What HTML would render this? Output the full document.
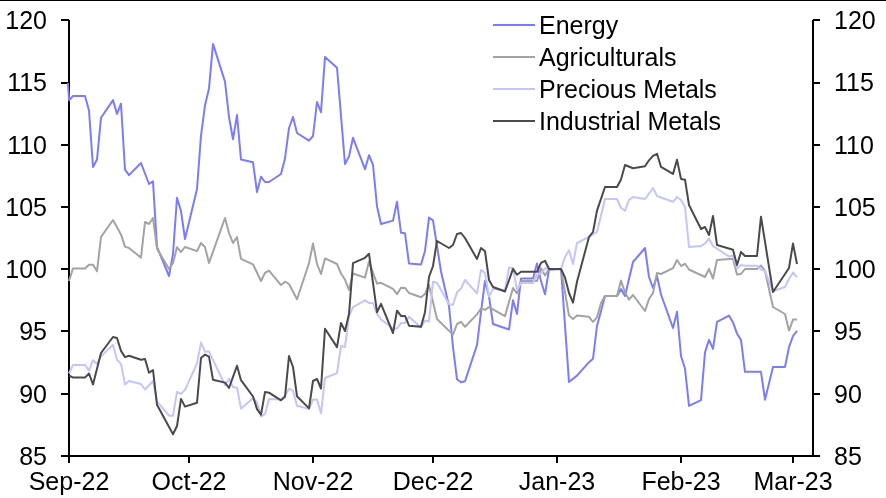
<!DOCTYPE html>
<html><head><meta charset="utf-8"><style>
html,body{margin:0;padding:0;background:#fff;}
svg{display:block;font-family:"Liberation Sans",sans-serif;font-size:25px;}
</style></head><body>
<svg width="886" height="498" viewBox="0 0 886 498">
<line x1="0" y1="0.5" x2="886" y2="0.5" stroke="#000" stroke-width="1"/><line x1="493" y1="25" x2="535" y2="25" stroke="#7b7bff" stroke-width="2"/><line x1="493" y1="57" x2="535" y2="57" stroke="#a3a3a3" stroke-width="2"/><line x1="493" y1="89" x2="535" y2="89" stroke="#c4c4ff" stroke-width="2"/><line x1="493" y1="121" x2="535" y2="121" stroke="#4a4a4a" stroke-width="2"/>
<path d="M69 20V463M813 20V456M61 456H820" stroke="#000" stroke-width="2" fill="none"/><path d="M61 456.00H69M813 456.00H820M61 394.00H69M813 394.00H820M61 331.00H69M813 331.00H820M61 269.00H69M813 269.00H820M61 207.00H69M813 207.00H820M61 145.00H69M813 145.00H820M61 83.00H69M813 83.00H820M61 20.00H69M813 20.00H820M69 456V463M189 456V463M313 456V463M433 456V463M557 456V463M681 456V463M793 456V463" stroke="#000" stroke-width="2" fill="none"/>
<polyline points="67.9,83 69.1,100.3 73,96 85,96 89,110.5 93,167 97,159.6 101,117.8 113,100.1 117,113.9 121,103.7 125,169.7 129,175.1 141,163 149,184 153,181.4 157,247 169,276 173,254 177,197.7 181,211 185,239 197,189 201,135.6 205,105.3 209,88.4 213,43.9 225,81.6 229,117 233,139.3 237,114.9 241,159.6 253,162.3 257,192 261,176.7 265,182 269,182 281,174 285,158.4 289,128 293,117 297,133 309,140.6 313,136 317,102 321,112.2 325,57 337,67.7 345,164 349,156.4 353,137.8 365,169.1 369,155.2 373,164.9 377,206.2 381,224 393,220.6 397,201.7 401,232.8 405,233.3 409,263.5 421,264.5 425,251 429,217.6 433,220.3 437,246 441,271.5 449,306 453,347 457,379.3 461,382.3 465,381.3 477,345 481,312 485,281 489,296.3 493,324 509,329.5 513,300.2 517,313.9 521,278.5 533,278.5 537,263.5 541,281 545,294.2 549,269.7 561,269 569,382 577,375.6 589,362.2 593,358.7 597,326 605,296 617,296 621,289 625,296 633,262 645,248 649,277 653,288 657,276 661,294.5 673,328 677,311.7 681,356 685,368.5 689,405.8 701,400.1 705,352.3 709,339.9 713,348.9 717,321.9 729,315.6 733,322.4 737,333.7 741,339.9 745,371.8 761,371.8 765,399.7 773,366.9 785,366.9 789,347.2 793,336 797,330.9" fill="none" stroke="#7b7bff" stroke-width="2" stroke-linejoin="round"/><polyline points="69,281 73,268.5 85,268.5 89,264.7 93,264.7 97,271.2 101,237 113,220 121,234.4 125,246.6 129,248 141,257.6 145,222 149,224 153,218 157,248.7 169,269 173,263 177,247.3 181,252 185,247 197,251.1 201,243 205,247 209,263 225,218 229,233 233,243 237,237.1 241,258.9 253,264.3 261,281 265,272.8 269,270.7 281,285.1 285,281.7 289,284 297,299.3 309,263.2 313,243.4 317,264 321,274 325,258.4 337,264 341,273.5 345,279.6 349,290 353,273.5 365,277.6 369,261.6 377,283.6 381,282.8 393,288.8 397,294.1 401,287.7 405,287.9 409,293 421,297.2 425,294 429,285 437,319 453,334.6 457,324 461,321.8 465,326.8 477,314.4 481,308.5 485,309.9 489,307.2 505,316.1 513,288 517,293.5 521,281 537,281 541,268.3 545,275.5 549,269 561,269 569,315.6 573,319 577,315.6 589,316.8 593,321.8 597,317.3 601,303 605,296 617,296 621,280.6 625,292.5 629,299.6 633,295 645,311 649,299 653,293 657,273 661,274 673,268.2 677,260 681,266 685,263.8 689,269.5 705,277 709,269 713,278.5 717,260 733,258.7 737,274.5 741,274 745,269 757,269 761,265.5 765,271 773,307 785,314 789,330.6 793,319.6 797,319.6" fill="none" stroke="#a3a3a3" stroke-width="2" stroke-linejoin="round"/><polyline points="69,373.5 73,364.9 85,364.9 89,370.7 93,360.2 97,363.9 101,356.4 113,344.8 117,359.8 121,363.9 125,384.4 129,381 141,384 145,389.5 153,381 157,401.4 169,415.7 173,415.7 177,391.8 181,393.9 185,389.8 197,363.4 201,342.6 205,351.6 209,351.6 225,385 229,378.7 233,387.1 237,387.7 241,408.6 253,398.2 257,402.3 261,416.6 265,413.9 269,398.9 281,399.6 285,395.5 289,388.7 293,390.7 297,405.7 309,408.9 313,399.6 317,399.6 321,413.2 325,378 337,373.1 341,345.8 345,347 349,316 353,307.1 365,300.3 369,303 373,303 377,313.9 381,319.4 393,328.5 397,328.5 401,322.9 405,322.9 409,316.7 421,327.4 425,320.6 429,321.5 433,281.7 437,282.8 449,304.3 453,304.7 457,292.2 461,288.5 465,280 477,293.4 481,269.9 485,273 489,296.6 493,289 505,290 509,267.5 513,268.2 517,290 521,283 533,283 537,274.5 541,273.5 545,268.3 549,269 561,269 565,257 569,250.3 573,264 577,243 589,236.8 593,234.5 597,232 605,199 617,199 621,208 625,210.6 629,200 633,197 645,199 653,188 657,196 673,201.8 677,197 681,200 685,207 689,247 701,246 705,243.5 709,238.4 713,246 729,256.5 733,255.6 737,268.5 741,265 745,265.8 757,265.8 761,269.6 765,271.1 773,291.3 785,287 789,279 793,272.5 797,277.3" fill="none" stroke="#c4c4ff" stroke-width="2" stroke-linejoin="round"/><polyline points="69,375.5 73,377.6 85,377.6 89,373.5 93,384.4 101,353 113,337 117,338 121,350.9 125,357.1 129,355.7 141,359.8 145,358.9 149,372.8 153,370 157,404.8 173,434.2 177,426 181,398.9 185,406.6 197,402.8 201,358 205,354.6 209,356.6 213,379.8 225,382.6 229,388 237,365.8 241,380.2 253,396.5 257,409.1 261,414.6 265,392.1 269,392.7 281,400.3 285,396.8 289,356 293,367 297,396.2 309,408.4 313,381 317,379 321,388.5 325,328.7 337,347.1 341,323 345,331 349,314 353,263.2 365,257.8 369,253.7 377,312.2 381,303.9 393,333 397,310.7 401,315.9 405,315.9 409,325.7 421,326.8 425,312.2 429,277 433,266 437,241 449,248 453,245 457,234 461,233 465,238 477,259 481,248 485,251.3 489,280 493,287 505,291.5 513,268.9 517,274.7 521,271.8 537,271.8 541,262.8 545,260.8 549,269 561,269 565,277.5 569,293 573,302.6 577,281.7 589,237 593,232 597,210.6 605,187 617,187 621,179.5 625,165 633,168.2 645,166.2 649,160.3 653,155.8 657,153.8 661,166.9 673,173.9 677,159.8 681,178.9 685,179.7 689,205 701,229 705,227 709,235 713,216 717,245 733,249.7 737,265 741,252 745,256 757,256 761,216.7 773,292 789,268 793,243.6 797,264" fill="none" stroke="#4a4a4a" stroke-width="2" stroke-linejoin="round"/>
<g style="filter:grayscale(1)"><text x="47" y="465.0" text-anchor="end">85</text><text x="834" y="465.0">85</text><text x="47" y="402.7" text-anchor="end">90</text><text x="834" y="402.7">90</text><text x="47" y="340.4" text-anchor="end">95</text><text x="834" y="340.4">95</text><text x="47" y="278.1" text-anchor="end">100</text><text x="834" y="278.1">100</text><text x="47" y="215.9" text-anchor="end">105</text><text x="834" y="215.9">105</text><text x="47" y="153.6" text-anchor="end">110</text><text x="834" y="153.6">110</text><text x="47" y="91.3" text-anchor="end">115</text><text x="834" y="91.3">115</text><text x="47" y="29.0" text-anchor="end">120</text><text x="834" y="29.0">120</text><text x="69" y="490" text-anchor="middle">Sep-22</text><text x="189" y="490" text-anchor="middle">Oct-22</text><text x="313" y="490" text-anchor="middle">Nov-22</text><text x="433" y="490" text-anchor="middle">Dec-22</text><text x="557" y="490" text-anchor="middle">Jan-23</text><text x="681" y="490" text-anchor="middle">Feb-23</text><text x="793" y="490" text-anchor="middle">Mar-23</text><text x="539" y="34">Energy</text><text x="539" y="66">Agriculturals</text><text x="539" y="98">Precious Metals</text><text x="539" y="130">Industrial Metals</text></g>
</svg></body></html>
